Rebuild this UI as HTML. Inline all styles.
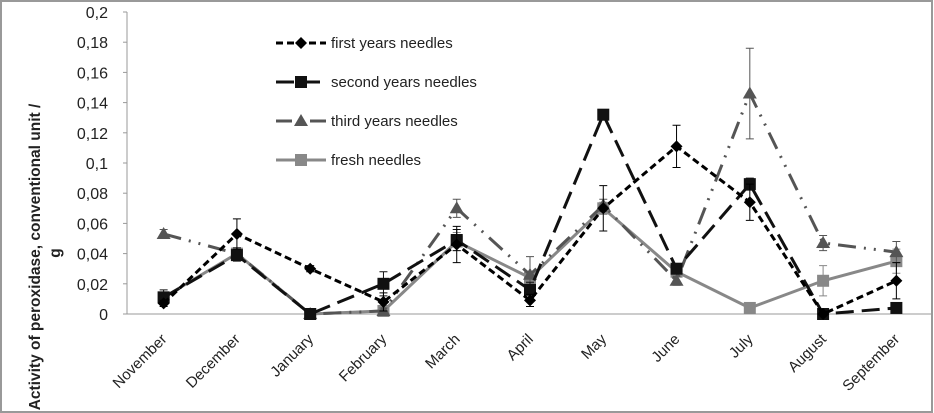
<!DOCTYPE html>
<html><head><meta charset="utf-8"><style>
html,body{margin:0;padding:0;background:#fff;}
#wrap{position:relative;width:934px;height:413px;overflow:hidden;}
svg text{font-family:"Liberation Sans",sans-serif;}
</style></head><body>
<div id="wrap">
<svg id="chart" width="934" height="413" xmlns="http://www.w3.org/2000/svg">
<rect x="1" y="1" width="931" height="411" fill="#fff" stroke="#999" stroke-width="2"/>
</svg>
</div>
<script>
const categories=["November","December","January","February","March","April","May","June","July","August","September"];
const firstYears=[0.007,0.053,0.030,0.008,0.046,0.009,0.070,0.111,0.074,0.000,0.022];
const secondYears=[0.011,0.039,0.000,0.020,0.049,0.016,0.132,0.030,0.086,0.000,0.004];
const thirdYears=[0.053,0.040,0.000,0.002,0.070,0.026,0.072,0.022,0.146,0.047,0.041];
const freshNeedles=[0.011,0.040,0.000,0.002,0.048,0.024,0.070,0.028,0.004,0.022,0.035];
const errFirst=[0.002,0.010,0.002,0.006,0.012,0.004,0.015,0.014,0.012,0.002,0.012];
const errSecond=[0.005,0.004,0.001,0.008,0.007,0.005,0.003,0.003,0.004,0.001,0.002];
const errThird=[0.003,0.004,0.001,0.002,0.006,0.012,0.004,0.003,0.030,0.005,0.007];
const errFresh=[0.003,0.004,0.001,0.002,0.006,0.004,0.004,0.003,0.002,0.010,0.008];
const yTicks=["0","0,02","0,04","0,06","0,08","0,1","0,12","0,14","0,16","0,18","0,2"];
const yMax=0.2;

const svg=document.getElementById('chart');
const NS='http://www.w3.org/2000/svg';
const x0=127,x1=933,yBase=314,yTop=12;
const step=(x1-x0)/categories.length;
function xs(i){return x0+step*(i+0.5);}
function ys(v){return yBase-(v/yMax)*(yBase-yTop);}
function mk(tag,attrs,parent){const e=document.createElementNS(NS,tag);for(const k in attrs)e.setAttribute(k,attrs[k]);(parent||svg).appendChild(e);return e;}

const ax=mk('line',{x1:x0,y1:yTop,x2:x0,y2:yBase,stroke:'#999','stroke-width':1});


const bx=mk('line',{x1:x0,y1:yBase,x2:x1,y2:yBase,stroke:'#999','stroke-width':1});


yTicks.forEach((t,i)=>{
  const v=i*0.02,y=ys(v);
  const tk=mk('line',{x1:x0-4,y1:y,x2:x0,y2:y,stroke:'#999'});
  
  
  const tx=mk('text',{x:108,y:y+6,'text-anchor':'end','font-size':16,fill:'#222'});
  tx.textContent=t;
  
  
});
categories.forEach((c,i)=>{
  const x=xs(i);
  const tx=mk('text',{x:x+4,y:340,'text-anchor':'end','font-size':15,fill:'#222',transform:`rotate(-45 ${x+4} 340)`});
  tx.textContent=c;
  
  
});
const yl=mk('text',{x:0,y:0,'font-size':15.5,'font-weight':'bold',fill:'#222','text-anchor':'middle',transform:'translate(40 257) rotate(-90)'});
yl.textContent='Activity of peroxidase, conventional unit /';


const yl2=mk('text',{x:0,y:0,'font-size':15.5,'font-weight':'bold',fill:'#222','text-anchor':'middle',transform:'translate(60 253) rotate(-90)'});
yl2.textContent='g';



const series=[
 {name:'first years needles',vals:firstYears,err:errFirst,color:'#000',dash:'7 4',marker:'diamond',key:'first'},
 {name:'second years needles',vals:secondYears,err:errSecond,color:'#111',dash:'18 8',marker:'square',key:'second'},
 {name:'third years needles',vals:thirdYears,err:errThird,color:'#555',dash:'18 8 2 8 2 8',marker:'triangle',key:'third'},
 {name:'fresh needles',vals:freshNeedles,err:errFresh,color:'#888',dash:'none',marker:'square',key:'fresh'}
];
function marker(type,x,y,color,g){
  if(type==='diamond')return mk('polygon',{points:`${x},${y-6} ${x+6},${y} ${x},${y+6} ${x-6},${y}`,fill:color},g);
  if(type==='square')return mk('rect',{x:x-6,y:y-6,width:12,height:12,fill:color},g);
  return mk('polygon',{points:`${x},${y-7} ${x+7},${y+5} ${x-7},${y+5}`,fill:color},g);
}
[...series].reverse().forEach(s=>{
  const g=mk('g',{});
  
  
  s.vals.forEach((v,i)=>{
    const x=xs(i),e=s.err[i];
    const eb=mk('path',{d:`M${x},${ys(v+e)}V${ys(Math.max(0,v-e))}M${x-4},${ys(v+e)}H${x+4}M${x-4},${ys(Math.max(0,v-e))}H${x+4}`,stroke:s.color,'stroke-width':1,fill:'none'},g);
    
    
  });
  const pts=s.vals.map((v,i)=>`${xs(i)},${ys(v)}`).join(' ');
  const pl=mk('polyline',{points:pts,fill:'none',stroke:s.color,'stroke-width':3,'stroke-dasharray':s.dash},g);
  
  
  s.vals.forEach((v,i)=>{
    const m=marker(s.marker,xs(i),ys(v),s.color,g);
    
    
  });
});
series.forEach((s,i)=>{
  const y=43+i*39;
  const g=mk('g',{});
  
  
  mk('line',{x1:276,y1:y,x2:326,y2:y,stroke:s.color,'stroke-width':3,'stroke-dasharray':s.dash==='none'?'none':(i===2?'16 8 2 8':s.dash)},g);
  marker(s.marker,301,y,s.color,g);
  const t=mk('text',{x:331,y:y+5,'font-size':15,fill:'#222'},g);
  t.textContent=s.name;
});
</script>
</body></html>
